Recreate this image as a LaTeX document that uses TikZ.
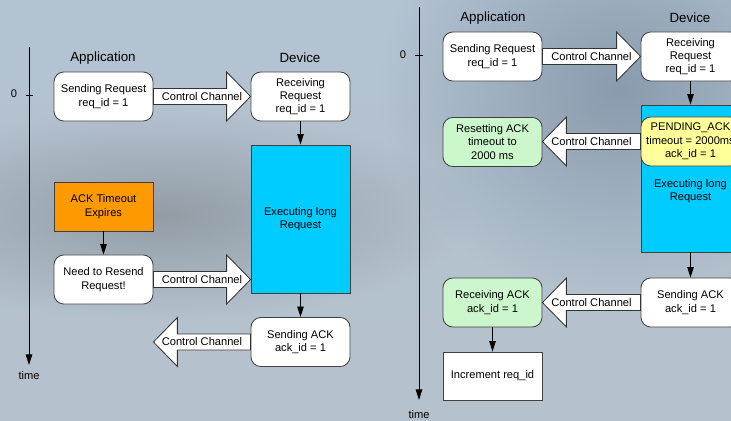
\documentclass[tikz,border=0pt]{standalone}
\usepackage{fontspec}
\setmainfont{Liberation Sans}
\usetikzlibrary{calc,arrows.meta,fadings}

% soft blob for the backdrop
\tikzfading[name=softblob, inner color=transparent!15, outer color=transparent!100]

% wide "Control Channel" block arrow between two points on one level
\newcommand{\channel}[2]{%
    \draw[chan] let \p1=(#1), \p2=(#2), \n1={ifthenelse(\x2>\x1,1,-1)} in
        (\x1,\y1+5.7pt) -- (\x2-\n1*17pt,\y1+5.7pt) -- (\x2-\n1*17pt,\y1+17.4pt)
        -- (\x2,\y1) -- (\x2-\n1*17pt,\y1-17.4pt) -- (\x2-\n1*17pt,\y1-5.7pt)
        -- (\x1,\y1-5.7pt) -- cycle;
    \node at ($(#1)!0.5!(#2)$) {Control Channel};
}

\begin{document}
\begin{tikzpicture}[x=0.025cm, y=-0.025cm,
    font=\fontsize{7.9}{9.5}\selectfont,
    box/.style={draw=black!75, line width=0.6pt, fill=white, align=center,
        minimum width=2.475cm, minimum height=1.225cm, inner sep=1pt},
    roundbox/.style={box, rounded corners=7pt},
    heading/.style={font=\fontsize{9.5}{11}\selectfont},
    flow/.style={draw=black, line width=0.6pt, -{Triangle[length=7.5pt,width=4.6pt]}},
    chan/.style={draw=black!80, line width=0.6pt, fill=white},
    ]
    \definecolor{bgtop}{HTML}{B3C3D2}
    \definecolor{bgmid}{HTML}{A6B3BE}
    \definecolor{bgbot}{HTML}{B5C1CC}
    \definecolor{bgshade}{HTML}{8C969E}
    \definecolor{bgdeep}{HTML}{8294A7}
    \definecolor{execblue}{HTML}{00CCFF}
    \definecolor{expireorange}{HTML}{FF9900}
    \definecolor{pendyellow}{HTML}{FFFF99}
    \definecolor{ackgreen}{HTML}{CCF7CC}

    \useasboundingbox (0,0) rectangle (731,421);
    \clip (0,0) rectangle (731,421);
    \shade[top color=bgtop, middle color=bgmid, bottom color=bgbot] (0,0) rectangle (731,421);
    \fill[bgshade, path fading=softblob] (-150,110) rectangle (470,320);
    \fill[bgdeep, path fading=softblob] (380,-120) rectangle (860,300);

    %% first run: ACK times out, request is sent again
    \coordinate (axistop1) at (29,47);
    \coordinate (axisend1) at (29,365);
    \draw[flow] (axistop1) -- (axisend1);
    \node (time1) at (29,376) {time};
    \draw[line width=0.6pt] (26,95) -- (33,95);
    \node (zero1) at (14,94) {0};

    \node[heading] (app1) at (103,58) {Application};
    \node[heading] (dev1) at (300,58) {Device};

    \node[roundbox] (send1) at (103.5,96.5) {Sending Request\\req\_id = 1};
    \node[roundbox] (recv1) at (300.5,96.5) {Receiving\\Request\\req\_id = 1};
    \node[box, fill=execblue, minimum height=3.7cm] (exec1) at (300.5,219) {Executing long\\Request};
    \node[box, fill=expireorange] (expire1) at (103.5,206.5) {ACK Timeout\\Expires};
    \node[roundbox] (resend1) at (103.5,279.5) {Need to Resend\\Request!};
    \node[roundbox] (ackout1) at (300.5,342) {Sending ACK\\ack\_id = 1};
    \coordinate (acktip1) at (send1.east |- ackout1.west);

    \draw[flow] (recv1) -- (exec1);
    \draw[flow] (exec1) -- (ackout1);
    \draw[flow] (expire1) -- (resend1);

    \channel{send1.east}{recv1.west}
    \channel{resend1.east}{exec1.west |- resend1.east}
    \channel{ackout1.west}{acktip1}

    %% second run: PENDING_ACK resets the timeout
    \coordinate (axistop2) at (419,7);
    \coordinate (axisend2) at (419,400);
    \draw[flow] (axistop2) -- (axisend2);
    \node (time2) at (419,415) {time};
    \draw[line width=0.6pt] (415,55) -- (423,55);
    \node (zero2) at (403,55) {0};

    \node[heading] (app2) at (493,18) {Application};
    \node[heading] (dev2) at (690,18) {Device};

    \node[roundbox] (send2) at (492.5,56.5) {Sending Request\\req\_id = 1};
    \node[roundbox] (recv2) at (690.5,56.5) {Receiving\\Request\\req\_id = 1};
    \node[box, fill=execblue, minimum height=3.675cm] (exec2) at (690.5,178.5) {};
    \node[align=center] (exectext2) at (690.5,191) {Executing long\\Request};
    \node[roundbox, fill=pendyellow] (pend2) at (690.5,141.5) {PENDING\_ACK\\timeout = 2000ms\\ack\_id = 1};
    \node[roundbox, fill=ackgreen] (reset2) at (492.5,142) {Resetting ACK\\timeout to\\2000 ms};
    \node[roundbox] (ackout2) at (690.5,302.5) {Sending ACK\\ack\_id = 1};
    \node[roundbox, fill=ackgreen] (ackin2) at (492.5,302.5) {Receiving ACK\\ack\_id = 1};
    \node[box, minimum height=1.2cm] (incr2) at (492.5,376) {Increment req\_id};

    \draw[flow] (recv2) -- (exec2);
    \draw[flow] (exec2) -- (ackout2);
    \draw[flow] (ackin2) -- (incr2);

    \channel{send2.east}{recv2.west}
    \channel{pend2.west}{reset2.east}
    \channel{ackout2.west}{ackin2.east}

\end{tikzpicture}
\end{document}
